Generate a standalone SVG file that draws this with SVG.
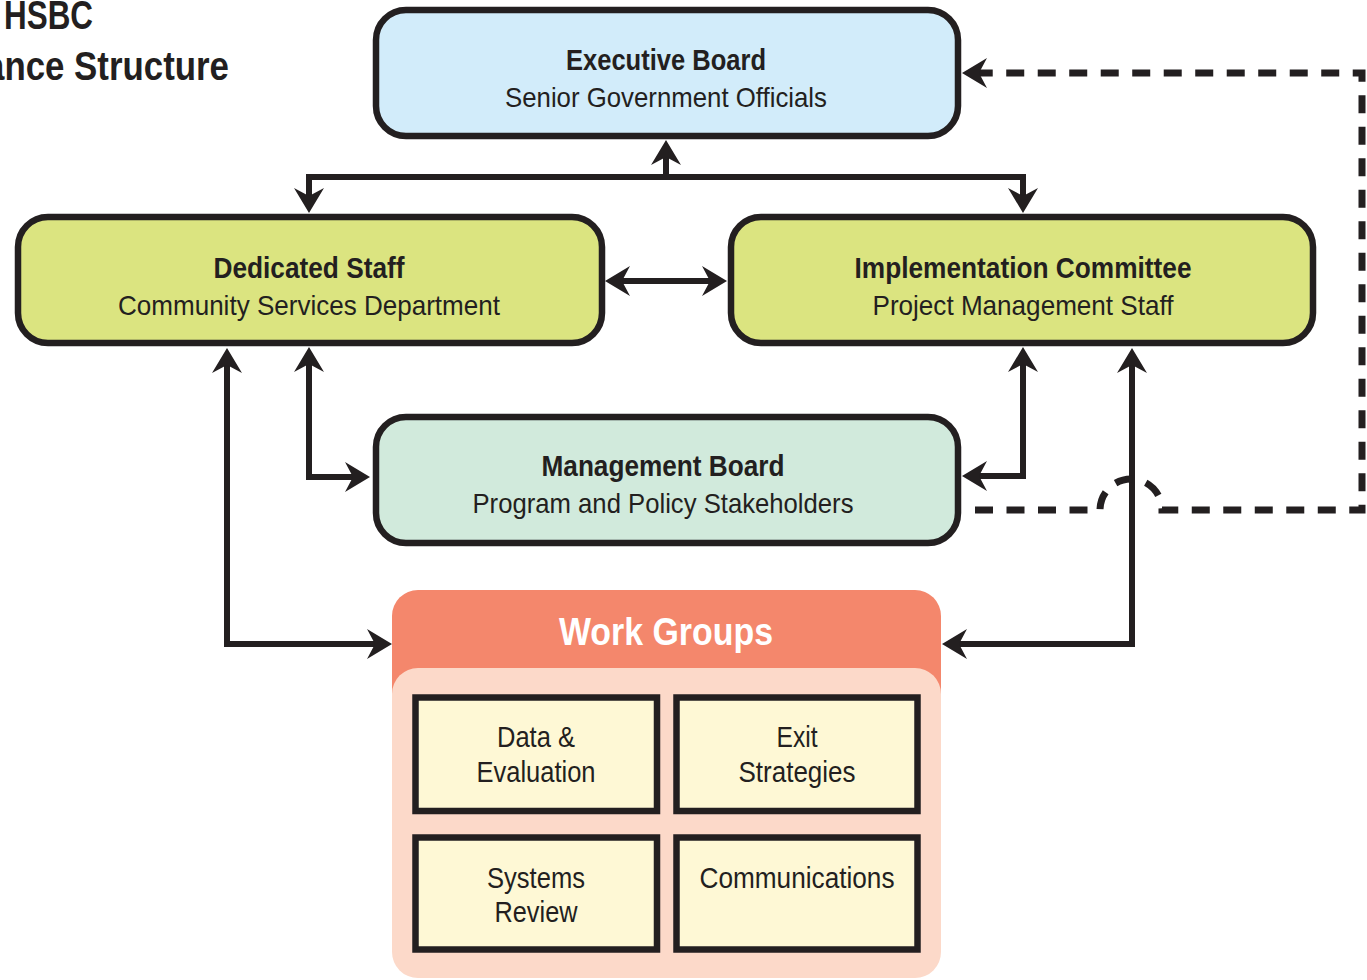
<svg xmlns="http://www.w3.org/2000/svg" width="1367" height="980" viewBox="0 0 1367 980">
<style>
  .box { stroke: #231f20; stroke-width: 6.5; }
  .t { font-family: "Liberation Sans Narrow", "Liberation Sans", Arial, sans-serif; fill: #231f20; text-anchor: middle; }
  .b { font-weight: bold; font-size: 30px; }
  .r { font-size: 28px; }
  .w { font-size: 30px; }
  .conn { fill: none; stroke: #231f20; stroke-width: 6; }
  .dash { fill: none; stroke: #231f20; stroke-width: 7; stroke-dasharray: 18 13.5; }
</style>
<defs>
  <marker id="ah" markerUnits="userSpaceOnUse" viewBox="-26 -16 27 32" refX="-17" refY="0" markerWidth="27" markerHeight="32" orient="auto-start-reverse">
    <path d="M0,0 L-25,-15 L-17,0 L-25,15 Z" fill="#231f20"/>
  </marker>
</defs>
<rect width="1367" height="980" fill="#ffffff"/>

<g id="title">
  <text class="t" x="4" y="29" style="text-anchor:start;font-weight:bold;font-size:40px" textLength="89" lengthAdjust="spacingAndGlyphs">HSBC</text>
  <text class="t" x="-15" y="80" style="text-anchor:start;font-weight:bold;font-size:40px" textLength="244" lengthAdjust="spacingAndGlyphs">ance Structure</text>
</g>

<g id="connectors">
  <path class="conn" d="M666,177 V157" marker-end="url(#ah)"/>
  <path class="conn" d="M309,196 V177 H1023 V196" marker-start="url(#ah)" marker-end="url(#ah)"/>
  <path class="conn" d="M622,281 H710" marker-start="url(#ah)" marker-end="url(#ah)"/>
  <path class="conn" d="M309,364 V477 H353" marker-start="url(#ah)" marker-end="url(#ah)"/>
  <path class="conn" d="M227,365 V644 H375" marker-start="url(#ah)" marker-end="url(#ah)"/>
  <path class="conn" d="M1023,364 V476 H979" marker-start="url(#ah)" marker-end="url(#ah)"/>
  <path class="conn" d="M1132,365 V644 H959" marker-start="url(#ah)" marker-end="url(#ah)"/>
  <path class="dash" d="M975,510 H1100 A31,31 0 0 1 1162,510 H1362 V73 H979" marker-end="url(#ah)"/>
</g>

<g id="executive-board">
  <rect class="box" x="376" y="10" width="582" height="126" rx="30" fill="#d2ecfa"/>
  <text class="t b" x="666" y="70" textLength="200" lengthAdjust="spacingAndGlyphs">Executive Board</text>
  <text class="t r" x="666" y="107" textLength="322" lengthAdjust="spacingAndGlyphs">Senior Government Officials</text>
</g>

<g id="dedicated-staff">
  <rect class="box" x="18" y="217" width="584" height="126" rx="30" fill="#dbe480"/>
  <text class="t b" x="309" y="278" textLength="191" lengthAdjust="spacingAndGlyphs">Dedicated Staff</text>
  <text class="t r" x="309" y="315" textLength="382" lengthAdjust="spacingAndGlyphs">Community Services Department</text>
</g>

<g id="implementation-committee">
  <rect class="box" x="731" y="217" width="582" height="126" rx="30" fill="#dbe480"/>
  <text class="t b" x="1023" y="278" textLength="337" lengthAdjust="spacingAndGlyphs">Implementation Committee</text>
  <text class="t r" x="1023" y="315" textLength="301" lengthAdjust="spacingAndGlyphs">Project Management Staff</text>
</g>

<g id="management-board">
  <rect class="box" x="376" y="417" width="582" height="126" rx="30" fill="#d1eadc"/>
  <text class="t b" x="663" y="476" textLength="243" lengthAdjust="spacingAndGlyphs">Management Board</text>
  <text class="t r" x="663" y="513" textLength="381" lengthAdjust="spacingAndGlyphs">Program and Policy Stakeholders</text>
</g>

<g id="work-groups">
  <rect x="392" y="590" width="549" height="130" rx="26" fill="#f4876c"/>
  <rect x="392" y="668" width="549" height="310" rx="26" fill="#fcd9c9"/>
  <text class="t" x="666" y="645" style="fill:#ffffff;font-weight:bold;font-size:38px" textLength="214" lengthAdjust="spacingAndGlyphs">Work Groups</text>
</g>

<g id="data-evaluation">
  <rect class="box" x="415.5" y="697.5" width="241.5" height="113.5" fill="#fef8d5"/>
  <text class="t w" x="536" y="747" textLength="78" lengthAdjust="spacingAndGlyphs">Data &amp;</text>
  <text class="t w" x="536" y="782" textLength="119" lengthAdjust="spacingAndGlyphs">Evaluation</text>
</g>

<g id="exit-strategies">
  <rect class="box" x="676.5" y="697.5" width="241" height="113.5" fill="#fef8d5"/>
  <text class="t w" x="797" y="747" textLength="41" lengthAdjust="spacingAndGlyphs">Exit</text>
  <text class="t w" x="797" y="782" textLength="117" lengthAdjust="spacingAndGlyphs">Strategies</text>
</g>

<g id="systems-review">
  <rect class="box" x="415.5" y="837.5" width="241.5" height="112" fill="#fef8d5"/>
  <text class="t w" x="536" y="888" textLength="98" lengthAdjust="spacingAndGlyphs">Systems</text>
  <text class="t w" x="536" y="922" textLength="83" lengthAdjust="spacingAndGlyphs">Review</text>
</g>

<g id="communications">
  <rect class="box" x="676.5" y="837.5" width="241" height="112" fill="#fef8d5"/>
  <text class="t w" x="797" y="888" textLength="195" lengthAdjust="spacingAndGlyphs">Communications</text>
</g>
</svg>
